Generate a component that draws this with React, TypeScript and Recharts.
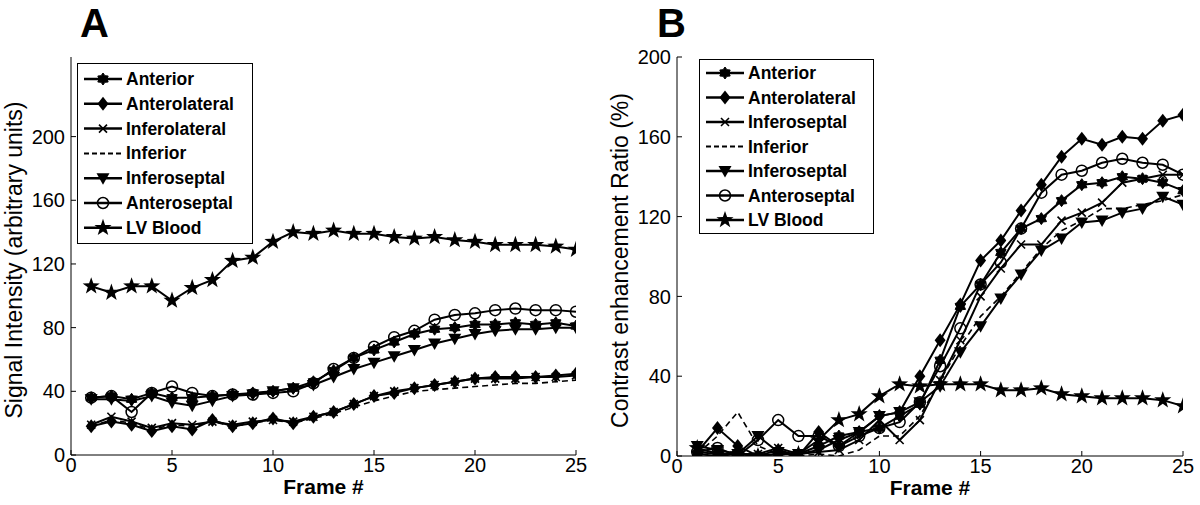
import React from 'react';
import { LineChart, Line, XAxis, YAxis } from 'recharts';

const frames = [1, 2, 3, 4, 5, 6, 7, 8, 9, 10, 11, 12, 13, 14, 15, 16, 17, 18, 19, 20, 21, 22, 23, 24, 25];

// Panel A: Signal intensity
const aAnterior = [36, 37, 35, 39, 36, 36, 37, 38, 39, 40, 42, 46, 53, 61, 66, 71, 76, 79, 80, 82, 82, 83, 82, 83, 81];
const aAnterolateral = [18, 21, 19, 15, 18, 16, 22, 18, 20, 23, 20, 24, 27, 32, 37, 39, 42, 44, 46, 48, 49, 49, 49, 50, 51];
const aInferolateral = [19, 24, 21, 17, 20, 19, 21, 19, 21, 22, 21, 24, 27, 32, 37, 40, 42, 44, 46, 48, 48, 48, 49, 49, 50];
const aInferior = [18, 22, 20, 16, 19, 18, 21, 18, 20, 22, 20, 23, 26, 30, 34, 37, 40, 41, 42, 43, 44, 45, 45, 46, 47];
const aInferoseptal = [35, 35, 34, 37, 33, 31, 34, 37, 38, 40, 42, 44, 49, 54, 58, 62, 66, 70, 73, 76, 78, 79, 79, 80, 80];
const aAnteroseptal = [36, 37, 27, 39, 43, 39, 37, 38, 38, 39, 40, 45, 54, 61, 68, 74, 78, 85, 88, 89, 91, 92, 91, 91, 90];
const aLVBlood = [106, 102, 106, 106, 97, 105, 110, 122, 124, 134, 140, 139, 141, 139, 139, 137, 136, 137, 135, 134, 132, 132, 132, 131, 129];

// Panel B: Contrast enhancement ratio (%)
const bAnterior = [1, 0, 1, 0, 1, 1, 5, 10, 12, 14, 20, 26, 48, 75, 86, 102, 114, 119, 128, 136, 137, 140, 139, 137, 133];
const bAnterolateral = [2, 14, 5, 0, 3, 0, 12, 5, 12, 20, 22, 40, 58, 76, 98, 108, 123, 136, 150, 159, 156, 160, 159, 168, 171];
const bInferolateral = [2, 1, 1, 1, 4, 1, 2, 3, 8, 18, 8, 18, 38, 58, 80, 94, 106, 106, 118, 122, 127, 137, 139, 141, 141];
const bInferior = [1, 10, 22, 5, 1, 0, 1, 0, 3, 10, 10, 20, 38, 55, 70, 80, 92, 104, 113, 118, 124, 124, 126, 128, 131];
const bInferoseptal = [5, 3, 1, 10, 2, 1, 3, 8, 12, 20, 22, 27, 35, 52, 65, 79, 91, 103, 109, 117, 118, 122, 124, 130, 126];
const bAnteroseptal = [2, 4, 0, 8, 18, 10, 10, 5, 10, 14, 17, 27, 45, 64, 86, 97, 114, 132, 141, 143, 147, 149, 147, 146, 141];
const bLVBlood = [4, 1, 1, 0, 1, 1, 8, 18, 21, 30, 36, 35, 36, 36, 36, 33, 33, 34, 31, 30, 29, 29, 29, 28, 25];

const xTicks = [0, 5, 10, 15, 20, 25];
const aYTicks = [0, 40, 80, 120, 160, 200];
const bYTicks = [0, 40, 80, 120, 160, 200];

const legendA = ['Anterior', 'Anterolateral', 'Inferolateral', 'Inferior', 'Inferoseptal', 'Anteroseptal', 'LV Blood'];
const legendB = ['Anterior', 'Anterolateral', 'Inferoseptal', 'Inferior', 'Inferoseptal', 'Anteroseptal', 'LV Blood'];

const seriesKeys = ['anterior', 'anterolateral', 'inferolateral', 'inferior', 'inferoseptal', 'anteroseptal', 'lvblood'];
const seriesMarkers = ['blob', 'diamond', 'x', 'none', 'tri', 'circle', 'star'];

const dataA = frames.map((f, i) => ({
  frame: f,
  anterior: aAnterior[i],
  anterolateral: aAnterolateral[i],
  inferolateral: aInferolateral[i],
  inferior: aInferior[i],
  inferoseptal: aInferoseptal[i],
  anteroseptal: aAnteroseptal[i],
  lvblood: aLVBlood[i],
}));

const dataB = frames.map((f, i) => ({
  frame: f,
  anterior: bAnterior[i],
  anterolateral: bAnterolateral[i],
  inferolateral: bInferolateral[i],
  inferior: bInferior[i],
  inferoseptal: bInferoseptal[i],
  anteroseptal: bAnteroseptal[i],
  lvblood: bLVBlood[i],
}));

function starPoints(cx: number, cy: number, R: number, r: number, n: number) {
  const pts: string[] = [];
  for (let k = 0; k < 2 * n; k++) {
    const ang = -Math.PI / 2 + (k * Math.PI) / n;
    const rad = k % 2 === 0 ? R : r;
    pts.push(`${cx + rad * Math.cos(ang)},${cy + rad * Math.sin(ang)}`);
  }
  return pts.join(' ');
}

function renderMarker(type: string, cx: number, cy: number) {
  switch (type) {
    case 'blob':
      return <polygon points={starPoints(cx, cy, 6, 3.8, 6)} fill="#000" stroke="#000" strokeWidth={1} />;
    case 'diamond':
      return <polygon points={`${cx},${cy - 7} ${cx + 5.5},${cy} ${cx},${cy + 7} ${cx - 5.5},${cy}`} fill="#000" />;
    case 'x':
      return (
        <path
          d={`M${cx - 4},${cy - 4}L${cx + 4},${cy + 4}M${cx - 4},${cy + 4}L${cx + 4},${cy - 4}`}
          stroke="#000"
          strokeWidth={1.6}
          fill="none"
        />
      );
    case 'tri':
      return <polygon points={`${cx - 6.5},${cy - 5} ${cx + 6.5},${cy - 5} ${cx},${cy + 6.5}`} fill="#000" />;
    case 'circle':
      return <circle cx={cx} cy={cy} r={5.5} fill="none" stroke="#000" strokeWidth={1.5} />;
    case 'star':
      return <polygon points={starPoints(cx, cy, 9, 3.6, 5)} fill="#000" />;
    default:
      return null;
  }
}

const FONT = "'Liberation Sans', Arial, sans-serif";

function Legend({ labels, left, top, width, height, firstRow, spacing }: any) {
  return (
    <svg
      width={width + 2}
      height={height + 2}
      style={{ position: 'absolute', left, top, overflow: 'visible' }}
    >
      <rect x={0.5} y={0.5} width={width} height={height} fill="#fff" stroke="#000" strokeWidth={1} />
      {labels.map((lab: string, i: number) => {
        const y = firstRow + i * spacing;
        const dashed = seriesMarkers[i] === 'none';
        return (
          <g key={i}>
            <line
              x1={7}
              x2={45}
              y1={y}
              y2={y}
              stroke="#000"
              strokeWidth={dashed ? 2 : 2.5}
              strokeDasharray={dashed ? '5 3' : undefined}
            />
            {renderMarker(seriesMarkers[i], 26, y)}
            <text
              x={49}
              y={y}
              dominantBaseline="central"
              fontSize={17.5}
              fontWeight="bold"
              fontFamily={FONT}
              fill="#000"
            >
              {lab}
            </text>
          </g>
        );
      })}
    </svg>
  );
}

const tickStyle = { fill: '#000', fontSize: 20, fontFamily: FONT };

function Panel({ data, yMax, yTicks, yLabel, yAxisWidth, rightMargin, xAxisHeight, labelX }: any) {
  return (
    <LineChart
      width={600}
      height={505}
      data={data}
      margin={{ top: 57, right: rightMargin, bottom: 0, left: 0 }}
      style={{ fontFamily: FONT }}
    >
      <XAxis
        dataKey="frame"
        type="number"
        domain={[0, 25]}
        ticks={xTicks}
        height={xAxisHeight}
        tickSize={-5}
        tickMargin={8}
        stroke="#000"
        tickLine={{ stroke: '#000' }}
        tick={tickStyle}
        allowDataOverflow
        label={(props: any) => {
          const vb = props.viewBox || {};
          return (
            <text
              x={vb.x + vb.width / 2}
              y={vb.y + 39}
              textAnchor="middle"
              fontSize={21}
              fontWeight="bold"
              fontFamily={FONT}
              fill="#000"
            >
              Frame #
            </text>
          );
        }}
      />
      <XAxis
        xAxisId="top"
        orientation="top"
        type="number"
        domain={[0, 25]}
        ticks={xTicks}
        height={0}
        tickSize={-5}
        stroke="#000"
        tickLine={{ stroke: '#000' }}
        tickFormatter={() => ''}
        allowDataOverflow
      />
      <YAxis
        type="number"
        domain={[0, yMax]}
        ticks={yTicks}
        width={yAxisWidth}
        tickSize={-5}
        tickMargin={11}
        stroke="#000"
        tickLine={{ stroke: '#000' }}
        tick={tickStyle}
        allowDataOverflow
        label={(props: any) => {
          const vb = props.viewBox || {};
          const cx = labelX;
          const cy = vb.y + vb.height / 2 + 4;
          return (
            <text
              x={cx}
              y={cy}
              transform={`rotate(-90, ${cx}, ${cy})`}
              textAnchor="middle"
              dominantBaseline="central"
              fontSize={23}
              fontFamily={FONT}
              fill="#000"
            >
              {yLabel}
            </text>
          );
        }}
      />
      <YAxis
        yAxisId="right"
        orientation="right"
        type="number"
        domain={[0, yMax]}
        ticks={yTicks}
        width={0}
        tickSize={-5}
        stroke="#000"
        tickLine={{ stroke: '#000' }}
        tickFormatter={() => ''}
        allowDataOverflow
      />
      {seriesKeys.map((k, si) => {
        const type = seriesMarkers[si];
        const dashed = type === 'none';
        return (
          <Line
            key={k}
            dataKey={k}
            type="linear"
            stroke="#000"
            strokeWidth={dashed ? 1.6 : 2}
            strokeDasharray={dashed ? '6 4' : undefined}
            isAnimationActive={false}
            dot={
              dashed
                ? false
                : (p: any) => <g key={`${k}-${p.index}`}>{renderMarker(type, p.cx, p.cy)}</g>
            }
            activeDot={false}
          />
        );
      })}
    </LineChart>
  );
}

export default function App() {
  return (
    <div
      style={{
        position: 'absolute',
        left: 0,
        top: 0,
        width: 1200,
        height: 505,
        background: '#fff',
        fontFamily: FONT,
        overflow: 'hidden',
      }}
    >
      <div style={{ position: 'absolute', left: 0, top: 0 }}>
        <Panel
          data={dataA}
          yMax={250}
          yTicks={aYTicks}
          yLabel="Signal Intensity (arbitrary units)"
          yAxisWidth={71}
          rightMargin={24}
          xAxisHeight={50}
          labelX={14}
        />
      </div>
      <div style={{ position: 'absolute', left: 600, top: 0 }}>
        <Panel
          data={dataB}
          yMax={200}
          yTicks={bYTicks}
          yLabel="Contrast enhancement Ratio (%)"
          yAxisWidth={77}
          rightMargin={17}
          xAxisHeight={49}
          labelX={20}
        />
      </div>
      <Legend labels={legendA} left={77} top={63} width={175} height={180} firstRow={16} spacing={24.8} />
      <Legend labels={legendB} left={699} top={59} width={174} height={174} firstRow={14} spacing={24.5} />
      <div
        style={{
          position: 'absolute',
          left: 80,
          top: 0,
          fontSize: 40,
          fontWeight: 'bold',
          fontFamily: FONT,
          lineHeight: '46px',
        }}
      >
        A
      </div>
      <div
        style={{
          position: 'absolute',
          left: 657,
          top: 0,
          fontSize: 40,
          fontWeight: 'bold',
          fontFamily: FONT,
          lineHeight: '46px',
        }}
      >
        B
      </div>
    </div>
  );
}
